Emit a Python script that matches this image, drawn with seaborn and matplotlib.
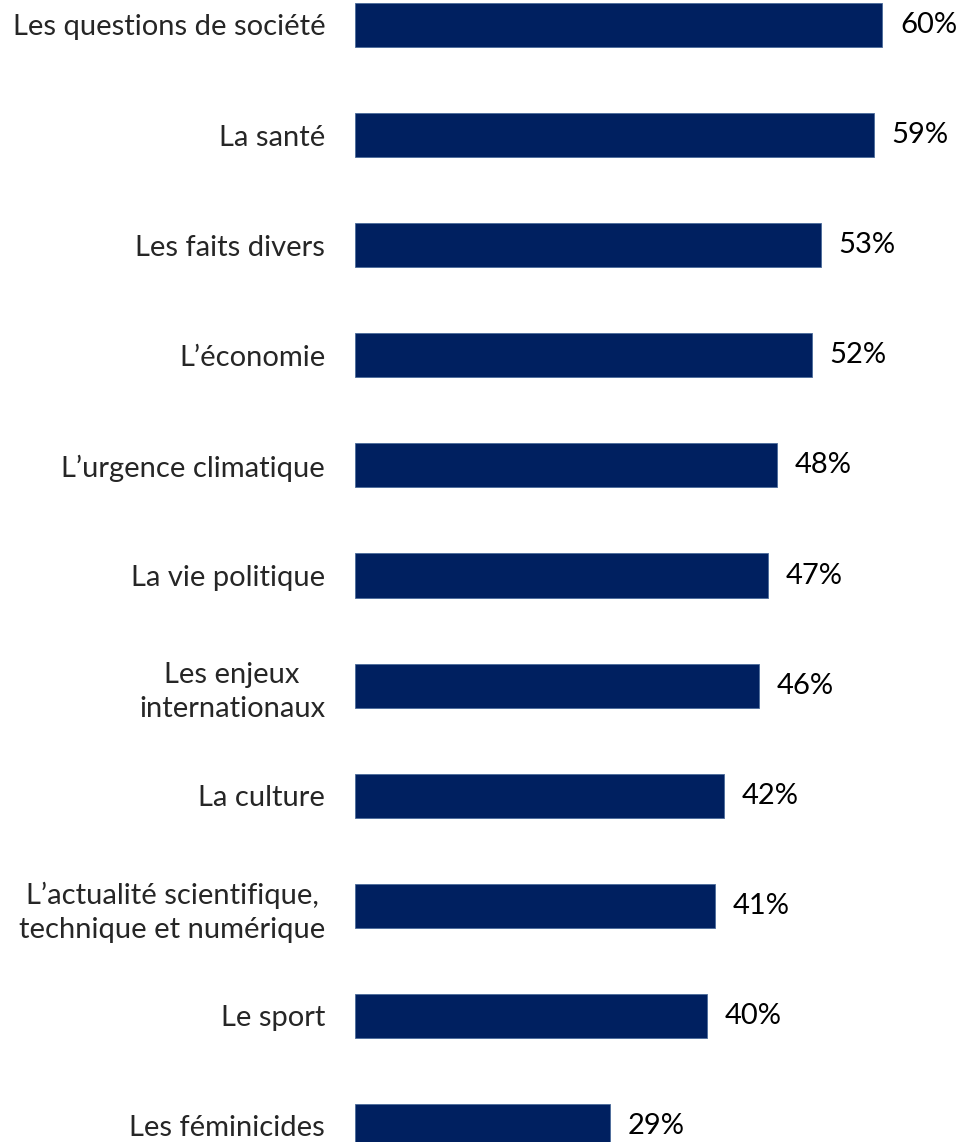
import matplotlib
matplotlib.use("Agg")
import matplotlib.pyplot as plt
import seaborn as sns
import pandas as pd

categories = [
    "Les questions de société",
    "La santé",
    "Les faits divers",
    "L\u2019économie",
    "L\u2019urgence climatique",
    "La vie politique",
    "Les enjeux\ninternationaux",
    "La culture",
    "L\u2019actualité scientifique,\ntechnique et numérique",
    "Le sport",
    "Les féminicides",
]
values = [60, 59, 53, 52, 48, 47, 46, 42, 41, 40, 29]

df = pd.DataFrame({"theme": categories, "pct": values})

sns.set_style("white")
plt.rcParams["font.family"] = ["Lato", "DejaVu Sans"]

fig = plt.figure(figsize=(9.57, 11.42), dpi=100)
ax = fig.add_axes([355 / 957, 0, 1 - 355 / 957, 1])

sns.barplot(data=df, x="pct", y="theme", color="#002060", width=0.4,
            edgecolor="#4a6a9a", linewidth=0.6, saturation=1, ax=ax)

ax.set_xlim(0, (957 - 355) / 8.79)
ax.set_ylim(10 + (1142 - 1126) / 110.1, -25 / 110.1)

for i, v in enumerate(values):
    ax.text(v + 2.0, i, f"{v}%", va="center", ha="left", fontsize=21, color="black")

ax.set_xlabel("")
ax.set_ylabel("")
ax.set_xticks([])
ax.tick_params(axis="y", length=0, pad=21.5, labelsize=21)
for lab in ax.get_yticklabels():
    lab.set_multialignment("center")
    lab.set_linespacing(1.4)
sns.despine(ax=ax, left=True, bottom=True)

fig.savefig("out.png", dpi=100)
